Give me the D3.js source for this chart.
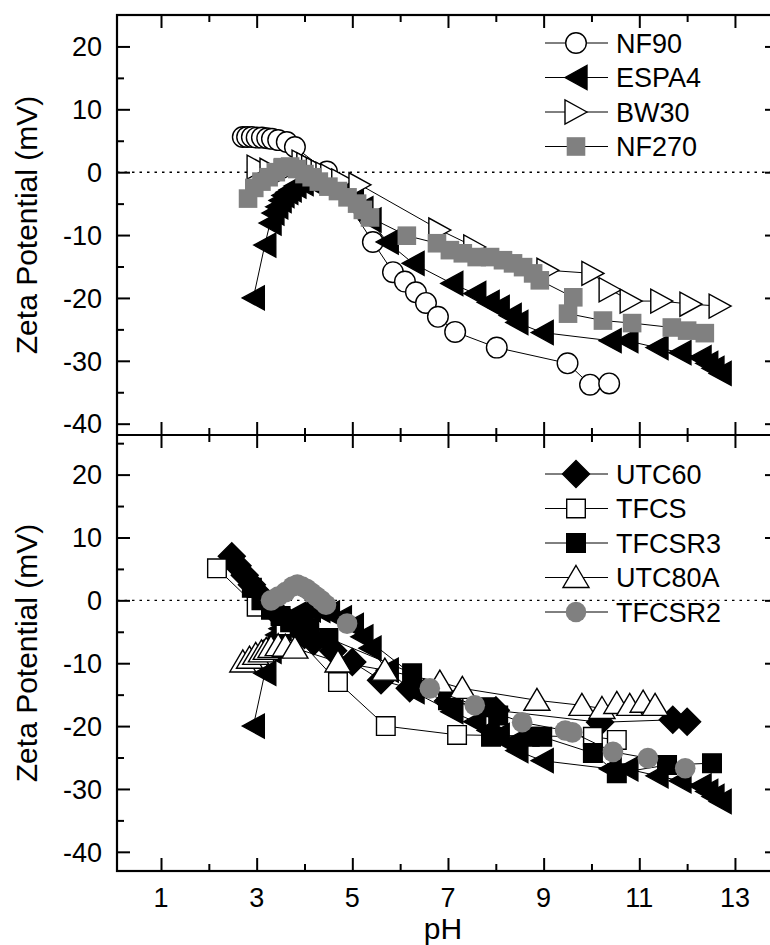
<!DOCTYPE html>
<html>
<head>
<meta charset="utf-8">
<script src="https://cdn.jsdelivr.net/npm/d3@7"></script>
<style>
  body { margin: 0; background: #fff; }
  svg text { font-family: "Liberation Sans", Arial, sans-serif; fill: #000; }
</style>
</head>
<body>
<div id="chart"></div>
<script>
const width = 770
const height = 945

// top panel series [pH, zeta potential mV]
const nf90 = [[2.71,5.6],[2.8,5.6],[2.9,5.6],[3.0,5.5],[3.11,5.5],[3.22,5.4],[3.32,5.3],[3.45,5.1],[3.63,4.8],[3.8,4.0],
  [4.47,0.1],[5.43,-11.1],[5.85,-15.9],[6.1,-17.4],[6.33,-19.1],[6.54,-20.8],[6.79,-23],[7.15,-25.4],[8.02,-27.9],
  [9.5,-30.4],[9.97,-33.8],[10.37,-33.6]]
const espa4 = [[2.93,-20],[3.17,-11.6],[3.28,-8.1],[3.34,-6.5],[3.42,-5.5],[3.49,-4.5],[3.55,-3.7],[3.63,-3.2],[3.7,-2.8],
  [3.8,-2.2],[3.95,-1.8],[4.1,-1.5],[4.3,-1.6],[4.5,-2],[4.75,-2.8],[5.0,-4],[5.2,-5.8],[5.37,-7.6],[5.73,-11.1],
  [6.27,-14.5],[7.08,-17.7],[7.56,-19.3],[7.84,-20.7],[8.05,-21.5],[8.3,-22.8],[8.44,-23.9],[8.97,-25.5],[10.39,-26.8],
  [10.74,-26.8],[11.37,-27.9],[11.85,-28.7],[12.27,-29.5],[12.41,-30.4],[12.54,-31.2],[12.69,-32]]
const bw30 = [[3.03,0.8],[3.3,0.3],[3.6,0.1],[3.97,1.6],[4.07,1.2],[4.17,0.8],[4.27,0.4],[4.37,0],[4.47,-0.3],[4.57,-0.6],
  [4.8,-1.4],[5.16,-2.0],[6.83,-9.2],[7.56,-11.9],[9.09,-15.6],[10.03,-16.1],[10.39,-18.7],[10.83,-20.5],[11.47,-20.5],
  [12.08,-21],[12.69,-21.3]]
const nf270 = [[2.82,-4.2],[2.95,-2.5],[3.1,-1.5],[3.25,-0.8],[3.4,0],[3.55,0.8],[3.7,0.9],[3.85,0.5],[4.0,-0.3],
  [4.15,-0.8],[4.3,-1.5],[4.5,-2.3],[4.7,-3.0],[4.9,-4.0],[5.1,-5.0],[5.22,-6.0],[5.37,-7.2],[6.14,-10.1],[6.77,-11.3],
  [7.04,-12.4],[7.31,-12.9],[7.6,-13.5],[7.88,-13.5],[8.15,-14],[8.36,-14.5],[8.57,-15.1],[8.78,-16.1],[8.92,-17.2],
  [9.62,-19.9],[9.51,-22.5],[10.24,-23.6],[10.85,-24.0],[11.68,-24.7],[12.0,-25.2],[12.37,-25.6]]

// bottom panel series
const utc60 = [[2.48,7],[2.6,5.5],[2.75,4],[2.9,2.5],[3.05,1],[3.2,-0.5],[3.35,-1.5],[3.5,-2.5],[3.65,-3.2],[3.8,-4],
  [4.0,-5.5],[4.2,-6.5],[4.6,-8],[5.0,-9.8],[5.6,-12.7],[6.2,-14],[7.0,-16],[8.0,-17.5],[10.18,-19.4],[11.7,-19],[12.0,-19.3]]
const tfcs = [[2.17,5.1],[3.0,-1],[3.6,-4],[4.7,-13],[5.7,-20],[7.19,-21.4],[10.03,-21.7],[10.53,-22.2]]
const tfcsr3 = [[2.9,2],[3.1,0],[3.3,-1.5],[3.5,-2.5],[3.7,-3.5],[3.9,-4],[4.1,-4.5],[4.5,-6],[6.25,-11.6],[7.0,-15.9],
  [7.8,-17],[8.05,-18.3],[7.9,-21.7],[8.71,-21.7],[8.97,-21.7],[10.03,-24.3],[10.53,-27.5],[11.58,-26.2],[12.52,-25.9]]
const utc80a = [[2.71,-9.8],[2.85,-9.2],[2.98,-8.6],[3.1,-8.2],[3.2,-7.8],[3.3,-7.5],[3.45,-7.2],[3.6,-7.3],[3.8,-7.6],
  [4.7,-9.8],[5.68,-11.1],[6.83,-13],[7.3,-14],[8.86,-15.9],[9.8,-16.7],[10.22,-17.2],[10.53,-16.4],[10.8,-16.7],
  [11.08,-16.2],[11.33,-16.7]]
const tfcsr2 = [[3.3,0],[3.45,0.6],[3.6,1.3],[3.75,2.2],[3.85,2.5],[3.95,2.2],[4.05,1.8],[4.15,1.2],[4.25,0.6],[4.35,0],
  [4.45,-0.7],[4.89,-3.7],[6.62,-14],[7.56,-16.7],[8.55,-19.4],[9.45,-20.7],[9.6,-21],[10.45,-24.1],[11.18,-25.1],
  [11.96,-26.7]]

const xTicks = [1, 3, 5, 7, 9, 11, 13]
const yTicks = [-40, -30, -20, -10, 0, 10, 20]
const topLegend = ['NF90', 'ESPA4', 'BW30', 'NF270']
const bottomLegend = ['UTC60', 'TFCS', 'TFCSR3', 'UTC80A', 'TFCSR2']

const styles = {
  NF90: {shape: 'circle', fill: '#fff'},
  ESPA4: {shape: 'triLeft', fill: '#000'},
  BW30: {shape: 'triRight', fill: '#fff'},
  NF270: {shape: 'square', fill: '#808080', stroke: 'none'},
  UTC60: {shape: 'diamond', fill: '#000'},
  TFCS: {shape: 'square', fill: '#fff'},
  TFCSR3: {shape: 'square', fill: '#000'},
  UTC80A: {shape: 'triUp', fill: '#fff'},
  TFCSR2: {shape: 'circle', fill: '#808080', stroke: 'none'}
}

function markerPath(shape) {
  const p = d3.path()
  if (shape === 'circle') { p.arc(0, 0, 10.3, 0, 2 * Math.PI) }
  else if (shape === 'square') { p.rect(-9.3, -9.3, 18.6, 18.6) }
  else if (shape === 'triLeft') { p.moveTo(-11, 0); p.lineTo(11, -12); p.lineTo(11, 12); p.closePath() }
  else if (shape === 'triRight') { p.moveTo(11, 0); p.lineTo(-11, -12); p.lineTo(-11, 12); p.closePath() }
  else if (shape === 'triUp') { p.moveTo(0, -12); p.lineTo(13, 10); p.lineTo(-13, 10); p.closePath() }
  else if (shape === 'diamond') { p.moveTo(0, -13.5); p.lineTo(13.5, 0); p.lineTo(0, 13.5); p.lineTo(-13.5, 0); p.closePath() }
  return p.toString()
}

const left = 117, right = 778
const x = d3.scaleLinear().domain([0.08, 13.9]).range([left, right])

const svg = d3.select('#chart').append('svg')
  .attr('width', width).attr('height', height)

const panels = [
  {top: 15, bottom: 435, y: d3.scaleLinear().domain([-41.8, 25]).range([435, 15]),
   series: [['NF90', nf90], ['ESPA4', espa4], ['BW30', bw30], ['NF270', nf270]], legend: topLegend, legendY: 43},
  {top: 435, bottom: 871, y: d3.scaleLinear().domain([-43.05, 26.3]).range([871, 435]),
   series: [['ESPA4', espa4], ['UTC60', utc60], ['TFCS', tfcs], ['TFCSR3', tfcsr3], ['UTC80A', utc80a], ['TFCSR2', tfcsr2]],
   legend: bottomLegend, legendY: 474}
]

const line = (y) => d3.line().x(d => x(d[0])).y(d => y(d[1]))

panels.forEach((pn, pi) => {
  const g = svg.append('g')
  const y = pn.y

  // zero reference
  g.append('line')
    .attr('x1', left).attr('x2', right)
    .attr('y1', y(0)).attr('y2', y(0))
    .attr('stroke', '#000').attr('stroke-width', 1.4)
    .attr('stroke-dasharray', '2.5,5')

  pn.series.forEach(([name, data]) => {
    const st = styles[name]
    g.append('path')
      .datum(data)
      .attr('d', line(y))
      .attr('fill', 'none').attr('stroke', '#000').attr('stroke-width', 1)
    g.selectAll('.m-' + name)
      .data(data)
      .enter()
      .append('path')
      .attr('class', 'm-' + name)
      .attr('d', markerPath(st.shape))
      .attr('transform', d => `translate(${x(d[0])},${y(d[1])})`)
      .attr('fill', st.fill)
      .attr('stroke', st.stroke || '#000')
      .attr('stroke-width', 1.4)
  })

  // axes, ticks inward
  const minorX = d3.range(2, 14, 2)
  const minorY = d3.range(-35, 26, 10)
  const yAxisL = d3.axisRight(y).tickValues(yTicks).tickSize(13).tickFormat('')
  const yAxisR = d3.axisLeft(y).tickValues(yTicks).tickSize(13).tickFormat('')
  g.append('g').attr('transform', `translate(${left},0)`).call(yAxisL)
  g.append('g').attr('transform', `translate(${left},0)`)
    .call(d3.axisRight(y).tickValues(minorY.filter(v => y(v) > pn.top + 3 && y(v) < pn.bottom - 3)).tickSize(7).tickFormat(''))
  g.append('g').attr('transform', `translate(${right},0)`).call(yAxisR)
  g.append('g').attr('transform', `translate(${right},0)`)
    .call(d3.axisLeft(y).tickValues(minorY.filter(v => y(v) > pn.top + 3 && y(v) < pn.bottom - 3)).tickSize(7).tickFormat(''))

  g.append('g').attr('transform', `translate(0,${pn.top})`)
    .call(d3.axisBottom(x).tickValues(xTicks).tickSize(13).tickFormat(''))
  g.append('g').attr('transform', `translate(0,${pn.top})`)
    .call(d3.axisBottom(x).tickValues(minorX).tickSize(7).tickFormat(''))
  g.append('g').attr('transform', `translate(0,${pn.bottom})`)
    .call(d3.axisTop(x).tickValues(xTicks).tickSize(13).tickFormat(''))
  g.append('g').attr('transform', `translate(0,${pn.bottom})`)
    .call(d3.axisTop(x).tickValues(minorX).tickSize(7).tickFormat(''))

  // y tick labels
  g.selectAll('.ylab')
    .data(yTicks)
    .enter()
    .append('text')
    .attr('x', 102)
    .attr('y', d => y(d))
    .attr('dy', '0.36em')
    .attr('text-anchor', 'end')
    .style('font-size', '27px')
    .text(d => d)

  g.append('text')
    .attr('transform', `translate(37,${(pn.top + pn.bottom) / 2}) rotate(-90)`)
    .attr('text-anchor', 'middle')
    .style('font-size', '30px')
    .text('Zeta Potential (mV)')

  // legend
  pn.legend.forEach((name, i) => {
    const ly = pn.legendY + i * 34.5
    const st = styles[name]
    g.append('line').attr('x1', 545).attr('x2', 608).attr('y1', ly).attr('y2', ly)
      .attr('stroke', '#000').attr('stroke-width', 1)
    g.append('path').attr('d', markerPath(st.shape))
      .attr('transform', `translate(576,${ly})`)
      .attr('fill', st.fill).attr('stroke', st.stroke || '#000').attr('stroke-width', 1.4)
    g.append('text').attr('x', 616).attr('y', ly).attr('dy', '0.36em')
      .style('font-size', '27px').text(name)
  })
})

// frame
svg.selectAll('.domain').remove()
svg.selectAll('.tick line').attr('stroke', '#000').attr('stroke-width', 2)
svg.append('rect').attr('x', left).attr('y', 15).attr('width', right - left).attr('height', 871 - 15)
  .attr('fill', 'none').attr('stroke', '#000').attr('stroke-width', 2.2)
svg.append('line').attr('x1', left).attr('x2', right).attr('y1', 435).attr('y2', 435)
  .attr('stroke', '#000').attr('stroke-width', 2.2)

// x tick labels
svg.selectAll('.xlab')
  .data(xTicks)
  .enter()
  .append('text')
  .attr('x', d => x(d))
  .attr('y', 907)
  .attr('text-anchor', 'middle')
  .style('font-size', '27px')
  .text(d => d)

svg.append('text')
  .attr('x', (117 + 769) / 2)
  .attr('y', 939)
  .attr('text-anchor', 'middle')
  .style('font-size', '30px')
  .text('pH')
</script>
</body>
</html>
